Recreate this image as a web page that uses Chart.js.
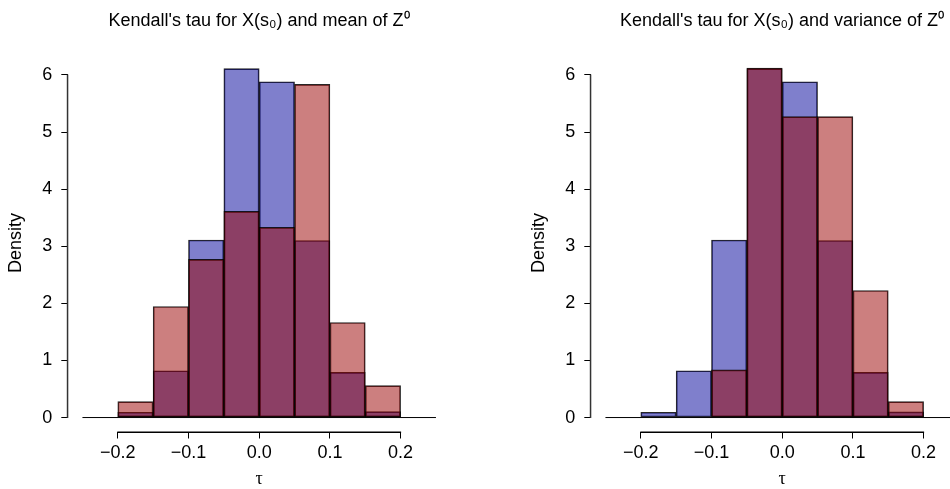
<!DOCTYPE html>
<html>
<head>
<meta charset="utf-8">
<script src="https://cdn.jsdelivr.net/npm/chart.js@4/dist/chart.umd.min.js"></script>
<style>
  html, body { margin: 0; padding: 0; background: #fff; }
  #wrap { position: relative; width: 950px; height: 489px; overflow: hidden; }
  canvas { position: absolute; top: 0; }
</style>
</head>
<body>
<div id="wrap">
  <canvas id="left" width="518" height="489" style="left:0px"></canvas>
  <canvas id="right" width="518" height="489" style="left:523px"></canvas>
</div>
<script>
// histogram bins (tau)
const breaks = [-0.25, -0.2, -0.15, -0.1, -0.05, 0, 0.05, 0.1, 0.15, 0.2, 0.25];
const binMids = [-0.225, -0.175, -0.125, -0.075, -0.025, 0.025, 0.075, 0.125, 0.175, 0.225];

// densities
const meanBlue = [0, 0.093, 0.82, 3.11, 6.11, 5.88, 3.10, 0.79, 0.105, 0];
const meanRed  = [0, 0.28, 1.945, 2.77, 3.61, 3.33, 5.835, 1.665, 0.56, 0];
const varBlue  = [0, 0.093, 0.82, 3.11, 6.11, 5.88, 3.10, 0.79, 0.10, 0];
const varRed   = [0, 0, 0, 0.835, 6.12, 5.27, 5.27, 2.225, 0.28, 0];

const xTicks = [-0.2, -0.1, 0, 0.1, 0.2];
const xTickLabels = ["\u22120.2", "\u22120.1", "0.0", "0.1", "0.2"];
const yTicks = [0, 1, 2, 3, 4, 5, 6];
const yTickLabels = ["0", "1", "2", "3", "4", "5", "6"];

const titleMean = "Kendall's tau for X(s\u2080) and mean of Z\u2070";
const titleVar = "Kendall's tau for X(s\u2080) and variance of Z\u2070";

// R-style axis limits (range + 4%)
const X_MIN = -0.27, X_MAX = 0.27;
const Y_MIN = -0.2444, Y_MAX = 6.3544;

const FONT = "'Liberation Sans', Arial, Helvetica, sans-serif";

// R draws axis lines only between the first and last tick
Chart.register({
  id: "axisLines",
  afterDraw(chart) {
    const ctx = chart.ctx;
    const area = chart.chartArea;
    const x0 = chart.scales.x.getPixelForValue(xTicks[0]);
    const x1 = chart.scales.x.getPixelForValue(xTicks[xTicks.length - 1]);
    const y0 = chart.scales.y.getPixelForValue(yTicks[0]);
    const y1 = chart.scales.y.getPixelForValue(yTicks[yTicks.length - 1]);
    ctx.save();
    ctx.lineWidth = 1.5;
    ctx.strokeStyle = "#000";
    ctx.beginPath();
    ctx.moveTo(x0 - 0.5, area.bottom + 0.75);
    ctx.lineTo(x1 + 0.5, area.bottom + 0.75);
    ctx.stroke();
    ctx.strokeStyle = "#333";
    ctx.beginPath();
    ctx.moveTo(area.left - 0.75, y0 + 0.5);
    ctx.lineTo(area.left - 0.75, y1 - 0.5);
    ctx.stroke();
    ctx.restore();
  }
});

function makeChart(id, title, blue, red) {
  return new Chart(document.getElementById(id).getContext("2d"), {
    type: "bar",
    data: {
      datasets: [
        // baseline of the histogram (zero-height bins too)
        {
          type: "line",
          data: [{ x: breaks[0], y: 0 }, { x: breaks[breaks.length - 1], y: 0 }],
          borderColor: "#000",
          borderWidth: 1,
          pointRadius: 0,
          order: 0
        },
        {
          data: binMids.map((m, i) => ({ x: m, y: red[i] })),
          backgroundColor: "rgba(153, 0, 0, 0.5)",
          borderColor: "rgba(0, 0, 0, 0.85)",
          borderWidth: 1,
          borderSkipped: false,
          order: 1
        },
        {
          data: binMids.map((m, i) => ({ x: m, y: blue[i] })),
          backgroundColor: "rgba(0, 0, 153, 0.5)",
          borderColor: "rgba(0, 0, 0, 0.85)",
          borderWidth: 1,
          borderSkipped: false,
          order: 2
        }
      ]
    },
    options: {
      responsive: false,
      animation: false,
      grouped: false,
      barPercentage: 1,
      categoryPercentage: 1,
      plugins: {
        legend: { display: false },
        tooltip: { enabled: false },
        title: {
          display: true,
          text: title,
          color: "#000",
          font: { family: FONT, size: 18, weight: "normal", lineHeight: 1.2 },
          padding: { top: 10.3, bottom: 22.8 }
        }
      },
      scales: {
        x: {
          type: "linear",
          min: X_MIN,
          max: X_MAX,
          offset: false,
          afterBuildTicks: (s) => { s.ticks = xTicks.map((v) => ({ value: v })); },
          afterFit: (s) => { s.height = 57.5; },
          grid: { offset: false, drawOnChartArea: false, drawTicks: true, tickLength: 7, color: "#000", lineWidth: 1 },
          border: { display: false },
          ticks: {
            color: "#000",
            font: { family: FONT, size: 18, lineHeight: 1.2 },
            padding: 3.8,
            maxRotation: 0,
            autoSkip: false,
            callback: (v, i) => xTickLabels[i]
          },
          title: {
            display: true,
            text: "\u03c4",
            color: "#000",
            font: { family: "'Liberation Serif', 'DejaVu Serif', serif", size: 18, lineHeight: 1.2 },
            padding: { top: 0, bottom: -1.5 }
          }
        },
        y: {
          type: "linear",
          min: Y_MIN,
          max: Y_MAX,
          afterBuildTicks: (s) => { s.ticks = yTicks.map((v) => ({ value: v })); },
          afterFit: (s) => { s.width = 68.3; },
          grid: { drawOnChartArea: false, drawTicks: true, tickLength: 7, color: "#000", lineWidth: 1 },
          border: { display: false },
          ticks: {
            color: "#000",
            font: { family: FONT, size: 18, lineHeight: 1.2 },
            padding: 9,
            autoSkip: false,
            callback: (v, i) => yTickLabels[i]
          },
          title: {
            display: true,
            text: "Density",
            color: "#000",
            font: { family: FONT, size: 18, lineHeight: 1.2 },
            padding: { top: 5, bottom: 0 }
          }
        },
        yPad: {
          type: "linear",
          position: "right",
          afterFit: (s) => { s.width = 67.9; },
          grid: { display: false },
          border: { display: false },
          ticks: { display: false }
        }
      }
    }
  });
}

makeChart("left", titleMean, meanBlue, meanRed);
makeChart("right", titleVar, varBlue, varRed);
</script>
</body>
</html>
